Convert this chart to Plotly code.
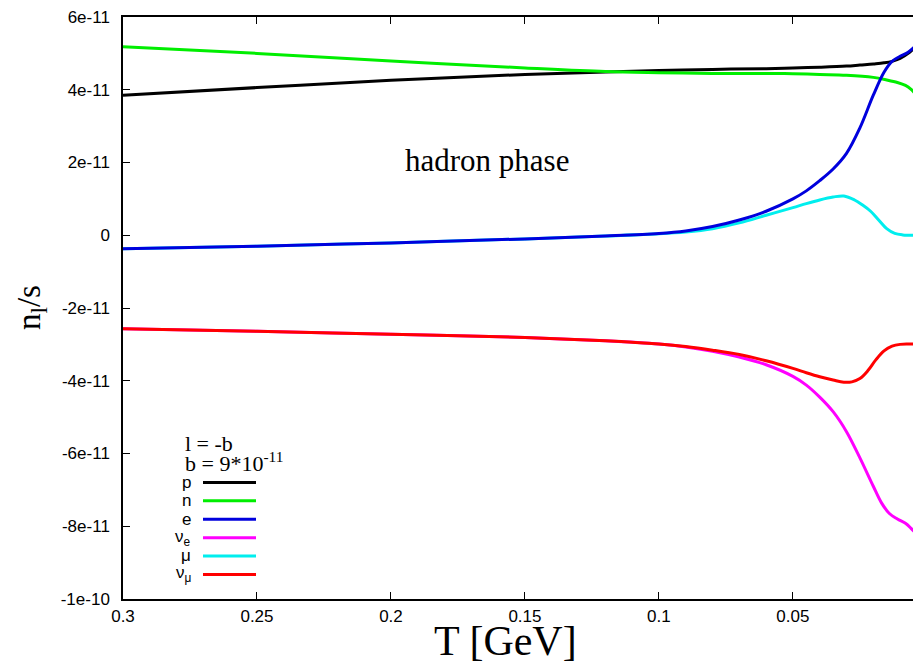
import plotly.graph_objects as go

# ---------------- data (values in units of 1e-11) ----------------
T_p = [0.30, 0.25, 0.20, 0.15, 0.12, 0.10, 0.08, 0.06, 0.05, 0.04, 0.03, 0.025, 0.02, 0.016, 0.013, 0.010, 0.007, 0.004]
n_p = [3.85, 4.06, 4.26, 4.42, 4.49, 4.53, 4.56, 4.58, 4.60, 4.62, 4.65, 4.68, 4.71, 4.74, 4.78, 4.86, 5.00, 5.20]

T_n = [0.30, 0.25, 0.20, 0.15, 0.12, 0.10, 0.08, 0.06, 0.05, 0.04, 0.03, 0.02, 0.015, 0.011, 0.008, 0.006, 0.004]
n_n = [5.18, 5.00, 4.79, 4.60, 4.50, 4.47, 4.45, 4.45, 4.44, 4.42, 4.40, 4.34, 4.27, 4.20, 4.12, 4.02, 3.86]

T_e = [0.30, 0.25, 0.20, 0.15, 0.12, 0.10, 0.09, 0.08, 0.07, 0.06, 0.05, 0.045, 0.04, 0.035, 0.03, 0.025, 0.02, 0.016, 0.013, 0.010, 0.007, 0.004]
n_e = [-0.37, -0.30, -0.21, -0.10, -0.02, 0.05, 0.12, 0.24, 0.42, 0.66, 1.00, 1.22, 1.50, 1.82, 2.25, 2.95, 3.85, 4.48, 4.78, 4.92, 5.03, 5.22]

T_nue = [0.30, 0.25, 0.20, 0.15, 0.12, 0.10, 0.09, 0.08, 0.07, 0.06, 0.05, 0.045, 0.04, 0.035, 0.03, 0.025, 0.02, 0.017, 0.014, 0.011, 0.008, 0.006, 0.004]
n_nue = [-2.57, -2.64, -2.72, -2.81, -2.90, -2.99, -3.07, -3.19, -3.35, -3.56, -3.88, -4.12, -4.45, -4.85, -5.40, -6.12, -6.90, -7.35, -7.65, -7.80, -7.92, -8.05, -8.21]

T_mu = [0.30, 0.25, 0.20, 0.15, 0.12, 0.10, 0.09, 0.08, 0.07, 0.06, 0.05, 0.045, 0.04, 0.035, 0.031, 0.027, 0.024, 0.021, 0.018, 0.015, 0.012, 0.009, 0.004]
n_mu = [-0.37, -0.30, -0.21, -0.10, -0.02, 0.04, 0.09, 0.18, 0.34, 0.55, 0.76, 0.87, 0.97, 1.05, 1.08, 0.97, 0.83, 0.66, 0.42, 0.18, 0.05, 0.01, 0.00]

T_numu = [0.30, 0.25, 0.20, 0.15, 0.12, 0.10, 0.09, 0.08, 0.07, 0.06, 0.05, 0.045, 0.04, 0.035, 0.031, 0.028, 0.025, 0.022, 0.019, 0.016, 0.013, 0.010, 0.007, 0.004]
n_numu = [-2.57, -2.64, -2.72, -2.81, -2.90, -2.99, -3.06, -3.16, -3.28, -3.45, -3.66, -3.78, -3.89, -3.98, -4.04, -4.03, -3.94, -3.72, -3.42, -3.18, -3.05, -3.00, -2.99, -2.99]

x_ticks = [0.3, 0.25, 0.2, 0.15, 0.1, 0.05]
x_ticktext = ["0.3", "0.25", "0.2", "0.15", "0.1", "0.05"]
y_ticks = [6, 4, 2, 0, -2, -4, -6, -8, -10]
y_ticktext = ["6e-11", "4e-11", "2e-11", "0", "-2e-11", "-4e-11", "-6e-11", "-8e-11", "-1e-10"]

series = [
    ("p", T_p, n_p, "#000000"),
    ("n", T_n, n_n, "#00ee00"),
    ("ν<sub>e</sub>", T_nue, n_nue, "#ff00ff"),
    ("μ", T_mu, n_mu, "#00eeee"),
    ("ν<sub>μ</sub>", T_numu, n_numu, "#ff0000"),
    ("e", T_e, n_e, "#0000dd"),
]
legend_order = ["p", "n", "e", "ν<sub>e</sub>", "μ", "ν<sub>μ</sub>"]
colors = {s[0]: s[3] for s in series}

# ---------------- geometry (page pixels; page body has an 8px margin) ----------------
OFF = 8
W, H = 921 - OFF, 667 - OFF
L, R, TOP, BOT = 123, 921, 13, 599   # plot area in page pixels
SANS = "Liberation Sans, Arial, sans-serif"
SERIF = "Liberation Serif, Times New Roman, serif"

def px(x):
    return (x - L) / (R - L)

def py(y):
    return (BOT - y) / (BOT - TOP)

fig = go.Figure()
for name, T, v, c in series:
    fig.add_trace(go.Scatter(x=T, y=v, mode="lines", name=name,
                             line=dict(color=c, width=3, shape="spline", smoothing=1.0),
                             showlegend=False, hoverinfo="skip"))
# helper trace for right-side mirrored y ticks
fig.add_trace(go.Scatter(x=[None], y=[None], yaxis="y2", showlegend=False, hoverinfo="skip"))

shapes = []
annotations = []

# legend title
annotations.append(dict(x=px(183), y=py(442), xref="paper", yref="paper", text="l = -b",
                        showarrow=False, xanchor="left", yanchor="middle",
                        font=dict(family=SERIF, size=22, color="black")))
annotations.append(dict(x=px(183), y=py(461), xref="paper", yref="paper", text="b = 9*10<sup>-11</sup>",
                        showarrow=False, xanchor="left", yanchor="middle",
                        font=dict(family=SERIF, size=22, color="black")))
row_y = [481.7, 500, 518.7, 537.3, 555.7, 574.3]
for name, yy in zip(legend_order, row_y):
    shapes.append(dict(type="line", xref="paper", yref="paper", x0=px(203), x1=px(256),
                       y0=py(yy), y1=py(yy), line=dict(color=colors[name], width=3)))
    annotations.append(dict(x=px(193), y=py(yy), xref="paper", yref="paper", text=name,
                            showarrow=False, xanchor="right", yanchor="middle",
                            font=dict(family=SANS, size=17, color="black")))

# text labels
annotations.append(dict(x=px(486.5), y=py(157), xref="paper", yref="paper", text="hadron phase",
                        showarrow=False, xanchor="center", yanchor="middle",
                        font=dict(family=SERIF, size=31, color="black")))
annotations.append(dict(x=px(505), y=py(641), xref="paper", yref="paper", text="T [GeV]",
                        showarrow=False, xanchor="center", yanchor="middle",
                        font=dict(family=SERIF, size=42, color="black")))
annotations.append(dict(x=px(31), y=py(306), xref="paper", yref="paper", text="n<sub>l</sub>/s",
                        showarrow=False, xanchor="center", yanchor="middle", textangle=-90,
                        font=dict(family=SERIF, size=33, color="black")))

fig.update_layout(
    width=W, height=H,
    margin=dict(l=L - OFF, r=(921 - OFF) - (R - OFF), t=TOP - OFF, b=H - (BOT - OFF), pad=0),
    paper_bgcolor="white", plot_bgcolor="white",
    shapes=shapes, annotations=annotations,
    xaxis=dict(range=[0.3, 0.0022], tickvals=x_ticks, ticktext=x_ticktext,
               ticks="inside", ticklen=7, tickcolor="black", tickwidth=1,
               showline=True, linecolor="black", linewidth=1.5, mirror="ticks",
               showgrid=False, zeroline=False, ticklabelstandoff=1,
               ticklabeloverflow="allow",
               tickfont=dict(family=SANS, size=17, color="black")),
    yaxis=dict(range=[-10, 6], tickvals=y_ticks, ticktext=y_ticktext,
               ticks="inside", ticklen=7, tickcolor="black", tickwidth=1,
               showline=True, linecolor="black", linewidth=1.5, mirror=False,
               showgrid=False, zeroline=False, ticklabelstandoff=8,
               ticklabeloverflow="allow",
               tickfont=dict(family=SANS, size=17, color="black")),
    yaxis2=dict(range=[-10, 6], tickvals=y_ticks, overlaying="y", side="right", anchor="x",
                ticks="inside", ticklen=7, tickcolor="black", tickwidth=1,
                showline=False, showticklabels=False, showgrid=False, zeroline=False),
)

fig.write_html("out.html")
